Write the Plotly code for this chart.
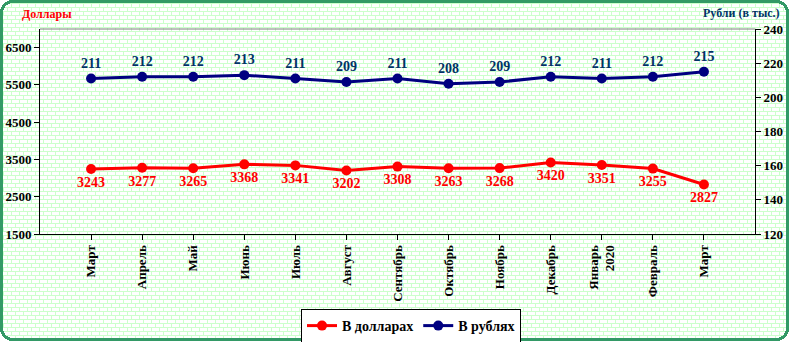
import base64, struct, zlib
import numpy as np
import plotly.graph_objects as go

# ---- data ----
months = ["Март", "Апрель", "Май", "Июнь", "Июль", "Август", "Сентябрь",
          "Октябрь", "Ноябрь", "Декабрь", "Январь<br>2020", "Февраль", "Март"]
usd_values = [3243, 3277, 3265, 3368, 3341, 3202, 3308, 3263, 3268, 3420, 3351, 3255, 2827]
rub_values = [211, 212, 212, 213, 211, 209, 211, 208, 209, 212, 211, 212, 215]
left_ticks = [1500, 2500, 3500, 4500, 5500, 6500]
right_ticks = [120, 140, 160, 180, 200, 220, 240]

W, H = 790, 342
ML, MR, MT, MB = 40, 35, 29, 108
PW, PH = W - ML - MR, H - MT - MB

# ---- background (brick pattern + rounded frame) as PNG ----
yy, xx = np.mgrid[0:H, 0:W]
img = np.full((H, W, 3), 255, dtype=np.uint8)
row = yy // 4
mortar = (yy % 4 == 3) | (((xx + (row % 2) * 4) % 8) == 7)
img[mortar] = (204, 255, 204)

def inside_round(px, py, x0, y0, x1, y1, r):
    qx = np.maximum(np.maximum(x0 + r - px, px - (x1 - r)), 0)
    qy = np.maximum(np.maximum(y0 + r - py, py - (y1 - r)), 0)
    inb = (px >= x0) & (px <= x1) & (py >= y0) & (py <= y1)
    return inb & (qx * qx + qy * qy <= r * r)

cx, cy = xx + 0.5, yy + 0.5
outer = inside_round(cx, cy, 0, 0, W - 1, H - 1, 13)
inner = inside_round(cx, cy, 3, 3, W - 4, H - 4, 10)
img[~outer] = (255, 255, 255)
img[outer & ~inner] = (51, 153, 102)

def png_bytes(a):
    h, w, _ = a.shape
    raw = b"".join(b"\x00" + a[i].tobytes() for i in range(h))
    def chunk(t, d):
        c = struct.pack(">I", len(d)) + t + d
        return c + struct.pack(">I", zlib.crc32(t + d) & 0xffffffff)
    return (b"\x89PNG\r\n\x1a\n" + chunk(b"IHDR", struct.pack(">IIBBBBB", w, h, 8, 2, 0, 0, 0))
            + chunk(b"IDAT", zlib.compress(raw, 9)) + chunk(b"IEND", b""))

bg_uri = "data:image/png;base64," + base64.b64encode(png_bytes(img)).decode()

FONT = "Liberation Serif, Times New Roman, serif"
x = list(range(len(months)))

fig = go.Figure()
fig.add_trace(go.Scatter(
    x=x, y=usd_values, name="В долларах", mode="lines+markers+text",
    line=dict(color="#FF0000", width=3), marker=dict(color="#FF0000", size=10),
    text=[str(v) for v in usd_values], textposition="bottom center",
    textfont=dict(family=FONT, size=14, color="#FF0000", weight="bold"),
    yaxis="y", cliponaxis=False))
fig.add_trace(go.Scatter(
    x=x, y=rub_values, name="В рублях", mode="lines+markers+text",
    line=dict(color="#000080", width=3), marker=dict(color="#000080", size=10),
    text=[str(v) for v in rub_values], textposition="top center",
    textfont=dict(family=FONT, size=14, color="#003366", weight="bold"),
    yaxis="y2", cliponaxis=False))

fig.update_layout(
    template="none",
    width=W, height=H,
    margin=dict(l=ML, r=MR, t=MT, b=MB, pad=0, autoexpand=False),
    paper_bgcolor="white", plot_bgcolor="rgba(0,0,0,0)",
    font=dict(family=FONT, color="black"),
    xaxis=dict(range=[-1, len(months)], tickmode="array", tickvals=x, ticktext=months,
               tickangle=-90, showgrid=False, zeroline=False, showline=True,
               linecolor="black", linewidth=1, ticks="outside", ticklen=5,
               tickcolor="black", automargin=False,
               tickfont=dict(family=FONT, size=13, color="black", weight="bold")),
    yaxis=dict(range=[1500, 7000], tickmode="array", tickvals=left_ticks,
               showgrid=False, zeroline=False, showline=True, linecolor="black",
               linewidth=1, ticks="outside", ticklen=5, tickcolor="black",
               automargin=False,
               tickfont=dict(family=FONT, size=13, color="black", weight="bold")),
    yaxis2=dict(range=[120, 240], tickmode="array", tickvals=right_ticks,
                overlaying="y", side="right", showgrid=False, zeroline=False,
                showline=True, linecolor="black", linewidth=1, ticks="outside",
                ticklen=5, tickcolor="black", automargin=False,
                tickfont=dict(family=FONT, size=13, color="black", weight="bold")),
    legend=dict(orientation="h", x=(411 - ML) / PW, xanchor="center",
                y=(MT + PH - 309) / PH, yanchor="top",
                bgcolor="white", bordercolor="black", borderwidth=1,
                font=dict(family=FONT, size=14, color="black", weight="bold"),
                itemwidth=30, tracegroupgap=0),
    showlegend=True,
    images=[dict(source=bg_uri, xref="paper", yref="paper",
                 x=-ML / PW, y=1 + MT / PH, sizex=W / PW, sizey=H / PH,
                 xanchor="left", yanchor="top", sizing="stretch", layer="below")],
    shapes=[dict(type="line", xref="paper", yref="paper", x0=0, x1=1, y0=1, y1=1,
                 line=dict(color="#808080", width=1))],
    annotations=[
        dict(text="Доллары", xref="paper", yref="paper", x=(20 - ML) / PW,
             y=(MT + PH - 14) / PH, xanchor="left", yanchor="middle", showarrow=False,
             font=dict(family=FONT, size=12, color="#FF0000", weight="bold")),
        dict(text="Рубли (в тыс.)", xref="paper", yref="paper", x=(782 - ML) / PW,
             y=(MT + PH - 13) / PH, xanchor="right", yanchor="middle", showarrow=False,
             font=dict(family=FONT, size=12, color="#003366", weight="bold")),
    ],
)

fig.write_html("out.html")
